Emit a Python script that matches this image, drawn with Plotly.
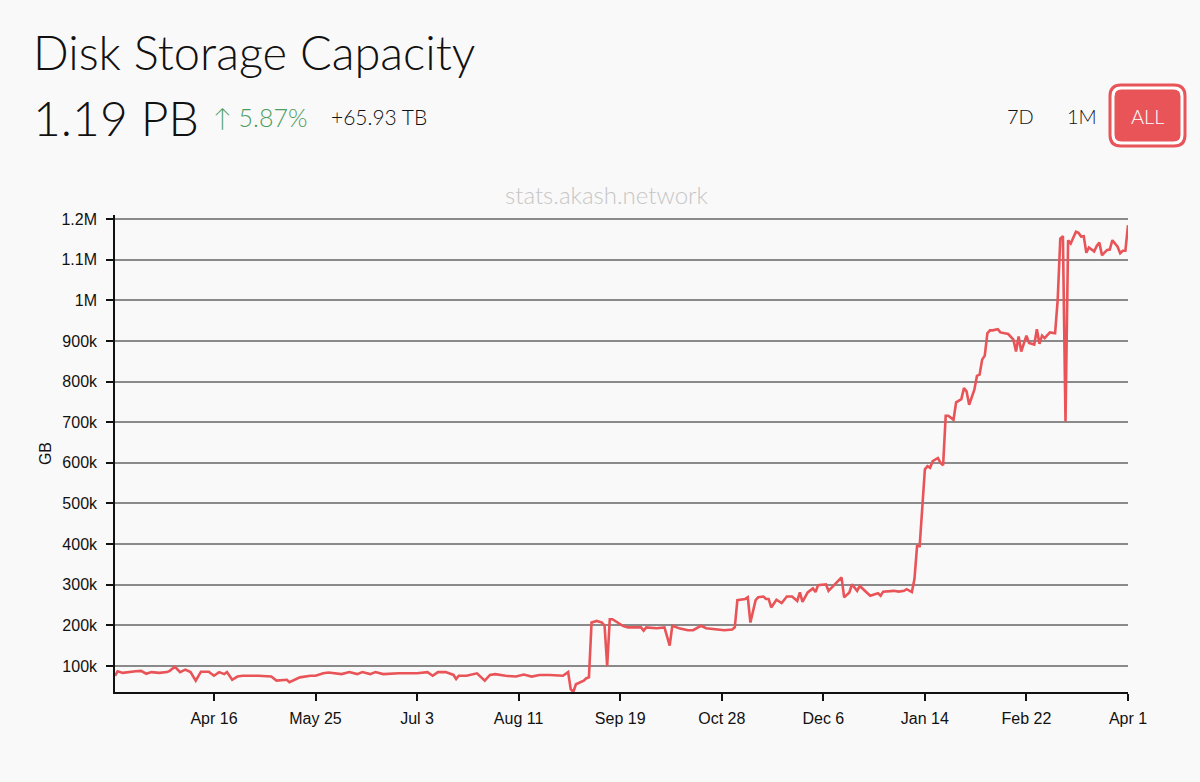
import plotly.graph_objects as go

# Disk storage capacity (GB)
dates = [
    "2023-03-09", "2023-03-10", "2023-03-12", "2023-03-14", "2023-03-17", "2023-03-19",
    "2023-03-21", "2023-03-23", "2023-03-26", "2023-03-29", "2023-03-30", "2023-04-01",
    "2023-04-03", "2023-04-05", "2023-04-07", "2023-04-09", "2023-04-11", "2023-04-14",
    "2023-04-16", "2023-04-18", "2023-04-20", "2023-04-21", "2023-04-23", "2023-04-25",
    "2023-04-27", "2023-05-03", "2023-05-08", "2023-05-10", "2023-05-14", "2023-05-15",
    "2023-05-17", "2023-05-19", "2023-05-23", "2023-05-25", "2023-05-28", "2023-05-30",
    "2023-06-04", "2023-06-07", "2023-06-10", "2023-06-12", "2023-06-15", "2023-06-17",
    "2023-06-20", "2023-06-26", "2023-07-03", "2023-07-07", "2023-07-09", "2023-07-11",
    "2023-07-14", "2023-07-17", "2023-07-18", "2023-07-19", "2023-07-22", "2023-07-26",
    "2023-07-29", "2023-07-31", "2023-08-02", "2023-08-06", "2023-08-10", "2023-08-13",
    "2023-08-16", "2023-08-19", "2023-08-23", "2023-08-28", "2023-08-30", "2023-08-31",
    "2023-09-01", "2023-09-02", "2023-09-05", "2023-09-06", "2023-09-07", "2023-09-08",
    "2023-09-10", "2023-09-12", "2023-09-13", "2023-09-14", "2023-09-15", "2023-09-16",
    "2023-09-18", "2023-09-20", "2023-09-22", "2023-09-24", "2023-09-27", "2023-09-28",
    "2023-09-29", "2023-10-03", "2023-10-06", "2023-10-08", "2023-10-09", "2023-10-12",
    "2023-10-15", "2023-10-17", "2023-10-20", "2023-10-22", "2023-10-26", "2023-10-29",
    "2023-11-01", "2023-11-02", "2023-11-03", "2023-11-06", "2023-11-07", "2023-11-08",
    "2023-11-10", "2023-11-11", "2023-11-13", "2023-11-14", "2023-11-15", "2023-11-16",
    "2023-11-18", "2023-11-20", "2023-11-22", "2023-11-24", "2023-11-26", "2023-11-27",
    "2023-11-28", "2023-11-30", "2023-12-02", "2023-12-03", "2023-12-04", "2023-12-07",
    "2023-12-08", "2023-12-11", "2023-12-13", "2023-12-14", "2023-12-16", "2023-12-17",
    "2023-12-19", "2023-12-20", "2023-12-22", "2023-12-24", "2023-12-27", "2023-12-28",
    "2023-12-29", "2024-01-02", "2024-01-04", "2024-01-06", "2024-01-07", "2024-01-09",
    "2024-01-10", "2024-01-11", "2024-01-12", "2024-01-13", "2024-01-14", "2024-01-15",
    "2024-01-16", "2024-01-17", "2024-01-19", "2024-01-20", "2024-01-21", "2024-01-22",
    "2024-01-23", "2024-01-25", "2024-01-26", "2024-01-28", "2024-01-29", "2024-01-30",
    "2024-01-31", "2024-02-02", "2024-02-03", "2024-02-04", "2024-02-05", "2024-02-06",
    "2024-02-07", "2024-02-08", "2024-02-09", "2024-02-11", "2024-02-12", "2024-02-15",
    "2024-02-17", "2024-02-18", "2024-02-19", "2024-02-20", "2024-02-22", "2024-02-23",
    "2024-02-25", "2024-02-26", "2024-02-27", "2024-02-28", "2024-02-29", "2024-03-02",
    "2024-03-04", "2024-03-05", "2024-03-06", "2024-03-07", "2024-03-08", "2024-03-09",
    "2024-03-10", "2024-03-12", "2024-03-13", "2024-03-14", "2024-03-15", "2024-03-16",
    "2024-03-17", "2024-03-19", "2024-03-20", "2024-03-21", "2024-03-22", "2024-03-24",
    "2024-03-25", "2024-03-26", "2024-03-27", "2024-03-28", "2024-03-29", "2024-03-30",
    "2024-03-31", "2024-04-01",
]

capacity_gb = [
    76000, 87000, 83000, 85000, 87000, 88000,
    81000, 85000, 83000, 85000, 88000, 98000,
    85000, 91000, 85000, 64000, 86000, 86000,
    76000, 85000, 80000, 85000, 66000, 74000,
    76000, 76000, 74000, 64000, 66000, 60000,
    66000, 72000, 76000, 76000, 82000, 84000,
    80000, 85000, 80000, 85000, 80000, 85000,
    80000, 82000, 82000, 85000, 76000, 85000,
    85000, 78000, 68000, 76000, 76000, 82000,
    64000, 78000, 80000, 76000, 74000, 79000,
    74000, 78000, 78000, 76000, 85000, 43000,
    36000, 55000, 64000, 70000, 72000, 207000,
    211000, 207000, 199000, 100000, 215000, 215000,
    207000, 199000, 195000, 195000, 195000, 187000,
    195000, 193000, 195000, 150000, 199000, 192000,
    188000, 188000, 199000, 193000, 190000, 188000,
    190000, 195000, 262000, 265000, 269000, 207000,
    262000, 269000, 271000, 265000, 265000, 244000,
    263000, 255000, 271000, 271000, 260000, 281000,
    258000, 281000, 291000, 282000, 299000, 301000,
    285000, 305000, 318000, 269000, 281000, 301000,
    285000, 297000, 285000, 273000, 279000, 273000,
    283000, 285000, 283000, 285000, 289000, 282000,
    314000, 395000, 395000, 494000, 584000, 592000,
    588000, 604000, 612000, 600000, 594000, 716000,
    716000, 706000, 749000, 757000, 784000, 776000,
    743000, 780000, 814000, 817000, 854000, 864000,
    919000, 926000, 926000, 929000, 921000, 917000,
    903000, 874000, 911000, 874000, 913000, 895000,
    891000, 929000, 893000, 913000, 907000, 921000,
    919000, 1001000, 1152000, 1158000, 702000, 1148000,
    1140000, 1169000, 1166000, 1157000, 1158000, 1117000,
    1130000, 1120000, 1134000, 1142000, 1111000, 1124000,
    1125000, 1148000, 1140000, 1132000, 1116000, 1122000,
    1122000, 1185000,
]

tick_dates = ["2023-04-16", "2023-05-25", "2023-07-03", "2023-08-11", "2023-09-19",
              "2023-10-28", "2023-12-06", "2024-01-14", "2024-02-22", "2024-04-01"]
tick_labels = ["Apr 16", "May 25", "Jul 3", "Aug 11", "Sep 19",
               "Oct 28", "Dec 6", "Jan 14", "Feb 22", "Apr 1"]

W, H = 1200, 782
ML, MR, MT, MB = 115, 72, 215, 90
RED = "#e85457"
BG = "#faf9f9"
HEAD_FONT = "Lato"


def px_x(px):
    return (px - ML) / (W - ML - MR)


def px_y(py):
    return (H - MB - py) / (H - MT - MB)


def rounded_rect(x0, y0, x1, y1, r):
    # rounded rectangle path in paper coords, given in page pixels
    X = px_x
    Y = px_y
    return (
        f"M {X(x0 + r)},{Y(y0)} L {X(x1 - r)},{Y(y0)} Q {X(x1)},{Y(y0)} {X(x1)},{Y(y0 + r)} "
        f"L {X(x1)},{Y(y1 - r)} Q {X(x1)},{Y(y1)} {X(x1 - r)},{Y(y1)} "
        f"L {X(x0 + r)},{Y(y1)} Q {X(x0)},{Y(y1)} {X(x0)},{Y(y1 - r)} "
        f"L {X(x0)},{Y(y0 + r)} Q {X(x0)},{Y(y0)} {X(x0 + r)},{Y(y0)} Z"
    )


fig = go.Figure()
fig.add_trace(
    go.Scatter(
        x=dates,
        y=capacity_gb,
        mode="lines",
        line=dict(color=RED, width=2.6),
        hoverinfo="skip",
    )
)


def label(text, x, y, size, color="#111111", anchor="left", weight=300):
    fig.add_annotation(
        text=text, x=px_x(x), y=px_y(y), xref="paper", yref="paper",
        xanchor=anchor, yanchor="middle", showarrow=False,
        font=dict(family=HEAD_FONT, size=size, color=color, weight=weight),
    )


label("Disk Storage Capacity", 31, 52, 47)
label("1.19 PB", 31, 118, 48)
label("↑ 5.87%", 211, 117, 25, color="#4c9e5e")
label("+65.93 TB", 329, 117, 21)
label("7D", 1020, 116, 20, anchor="center")
label("1M", 1082, 116, 20, anchor="center")
label("stats.akash.network", 607, 194, 24, color="#c6c6c6", anchor="center")

fig.add_shape(type="path", path=rounded_rect(1110, 85, 1185, 146, 11),
              xref="paper", yref="paper", line=dict(color=RED, width=3),
              fillcolor="#ffffff", layer="above")
fig.add_shape(type="path", path=rounded_rect(1114.5, 89.5, 1180.5, 141.5, 7),
              xref="paper", yref="paper", line=dict(width=0),
              fillcolor=RED, layer="above")
label("ALL", 1147.5, 116, 20, color="#ffffff", anchor="center")

fig.update_layout(
    width=W,
    height=H,
    margin=dict(l=ML, r=MR, t=MT, b=MB, pad=0),
    paper_bgcolor=BG,
    plot_bgcolor=BG,
    showlegend=False,
    font=dict(family="Liberation Sans", size=16, color="#111111"),
)
fig.update_xaxes(
    type="date",
    range=["2023-03-09", "2024-04-01"],
    tickvals=tick_dates,
    ticktext=tick_labels,
    ticks="outside",
    ticklen=7,
    tickwidth=1.5,
    tickcolor="#111111",
    ticklabelstandoff=4,
    showgrid=False,
    showline=True,
    linecolor="#111111",
    linewidth=1.5,
    zeroline=False,
    tickfont=dict(size=16),
)
fig.update_yaxes(
    range=[36000, 1210000],
    dtick=100000,
    tick0=0,
    tickformat="~s",
    ticks="outside",
    ticklen=7,
    tickwidth=1.5,
    tickcolor="#111111",
    ticklabelstandoff=6,
    showgrid=True,
    gridcolor="#8a8a8a",
    gridwidth=1.5,
    showline=True,
    linecolor="#111111",
    linewidth=1.5,
    zeroline=False,
    title=dict(text="GB", standoff=6, font=dict(size=16)),
    tickfont=dict(size=16),
)

fig.write_html(
    "out.html",
    config={"displayModeBar": False},
    post_script="document.body.style.margin='0';document.body.style.background='%s';" % BG,
)
